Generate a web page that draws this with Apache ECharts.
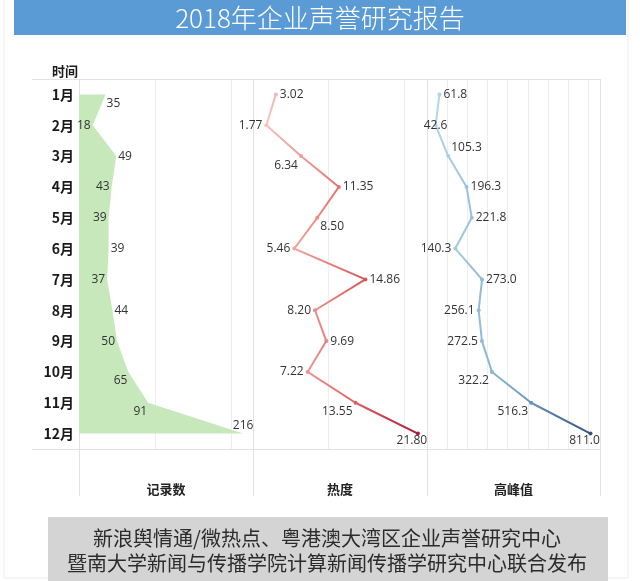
<!DOCTYPE html>
<html>
<head>
<meta charset="utf-8">
<script src="https://cdn.jsdelivr.net/npm/echarts@6/dist/echarts.min.js"></script>
<style>
html,body{margin:0;padding:0;background:#fff;}
#chart{width:640px;height:581px;}
</style>
</head>
<body>
<div id="chart"></div>
<script>
// ---- data ----
const months = ['1月','2月','3月','4月','5月','6月','7月','8月','9月','10月','11月','12月'];
const records = [35, 18, 49, 43, 39, 39, 37, 44, 50, 65, 91, 216];
const heat = [3.02, 1.77, 6.34, 11.35, 8.50, 5.46, 14.86, 8.20, 9.69, 7.22, 13.55, 21.80];
const peak = [61.8, 42.6, 105.3, 196.3, 221.8, 140.3, 273.0, 256.1, 272.5, 322.2, 516.3, 811.0];
const panelNames = ['记录数', '热度', '高峰值'];
const titleText = '2018年企业声誉研究报告';
const footerLines = ['新浪舆情通/微热点、粤港澳大湾区企业声誉研究中心', '暨南大学新闻与传播学院计算新闻传播学研究中心联合发布'];

// ---- label placement styles ----
const recPlace = ['rb','l','r','l','l','r','l','r','l','lb','lb','t'];
const heatPlace = ['r','l','lb','r','rb','l','r','l','r','l','lb','b'];
const peakPlace = ['r','c','rt','r','r','l','r','l','l','lb','lb','b'];

function placeCfg(p) {
  switch (p) {
    case 'r': return {position: 'right', distance: 2};
    case 'l': return {position: 'left', distance: 2};
    case 'rb': return {position: 'right', distance: 1, offset: [0, 9]};
    case 'lb': return {position: 'left', distance: 1, offset: [0, 9]};
    case 'rt': return {position: 'right', distance: 1, offset: [0, -9]};
    case 't': return {position: 'top', distance: 2};
    case 'b': return {position: 'bottom', distance: 1, offset: [-6, -2]};
    case 'c': return {position: 'inside'};
  }
}

function buildData(vals, places, digits) {
  return vals.map((v, i) => ({
    value: [v, months[i]],
    label: Object.assign({show: true, formatter: () => digits == null ? String(v) : v.toFixed(digits)}, placeCfg(places[i]))
  }));
}

const labelFont = {color: '#333', fontSize: 12, fontFamily: 'Open Sans, Noto Sans, sans-serif'};
const gridLeft = [79, 253, 427];
const gridW = [174, 174, 173];
const maxes = [229, 23, 858];
const intervals = [100, 10, 100];

const grids = gridLeft.map((l, i) => ({left: l, width: gridW[i], top: 79, height: 370, containLabel: false}));
const xAxes = gridLeft.map((l, i) => ({
  type: 'value', gridIndex: i, min: 0, max: maxes[i], interval: intervals[i],
  axisLine: {show: false}, axisTick: {show: false}, axisLabel: {show: false},
  splitLine: {show: true, lineStyle: {color: '#eeeeee', width: 1}},
  name: panelNames[i], nameLocation: 'middle', nameGap: 34,
  nameTextStyle: {fontSize: 13, fontWeight: 'bold', color: '#222', fontFamily: 'Noto Sans CJK SC'}
}));
const yAxes = gridLeft.map((l, i) => ({
  type: 'category', gridIndex: i, data: months, inverse: true, boundaryGap: true,
  axisLine: {show: false}, axisTick: {show: false},
  axisLabel: {show: i === 0, margin: 5, fontSize: 14, fontWeight: 'bold', color: '#1a1a1a', fontFamily: 'Noto Sans CJK SC'},
  splitLine: {show: false}
}));

const series = [
  {
    type: 'line', xAxisIndex: 0, yAxisIndex: 0,
    data: buildData(records, recPlace, null),
    symbol: 'circle', symbolSize: 0,
    lineStyle: {width: 0, color: '#c6e8bb'},
    itemStyle: {color: '#c6e8bb'},
    areaStyle: {color: '#c6e8bb', opacity: 1},
    label: Object.assign({show: true}, labelFont),
    z: 3
  },
  {
    type: 'line', xAxisIndex: 1, yAxisIndex: 1,
    data: buildData(heat, heatPlace, 2),
    symbol: 'circle', symbolSize: 4,
    lineStyle: {width: 2},
    label: Object.assign({show: true}, labelFont),
    z: 3
  },
  {
    type: 'line', xAxisIndex: 2, yAxisIndex: 2,
    data: buildData(peak, peakPlace, 1),
    symbol: 'circle', symbolSize: 4,
    lineStyle: {width: 2},
    label: Object.assign({show: true}, labelFont),
    z: 3
  }
];

const visualMaps = [
  {type: 'continuous', show: false, seriesIndex: 1, dimension: 0, min: 1.77, max: 21.80,
   inRange: {color: ['#f6c2bb', '#e5706c', '#b4173a']}},
  {type: 'continuous', show: false, seriesIndex: 2, dimension: 0, min: 42.6, max: 811.0,
   inRange: {color: ['#b2d6ea', '#7aa7cb', '#33557c']}}
];

const lineColor = '#e2e2e2';
const graphics = [
  {type: 'rect', shape: {x: 4, y: -2, width: 624, height: 580}, style: {fill: 'none', stroke: '#ececec', lineWidth: 1}, z: -10, silent: true},
  {type: 'rect', shape: {x: 14, y: 0, width: 612, height: 35}, style: {fill: '#5b9bd5'}, z: 1},
  {type: 'text', x: 320, y: 18, style: {text: titleText, fill: '#ffffff', fontSize: 26, fontWeight: 300, fontFamily: 'Noto Sans CJK SC', textAlign: 'center', textVerticalAlign: 'middle'}, z: 2},
  {type: 'text', x: 52, y: 71, style: {text: '时间', fill: '#1a1a1a', fontSize: 13, fontWeight: 'bold', fontFamily: 'Noto Sans CJK SC', textAlign: 'left', textVerticalAlign: 'middle'}, z: 2},
  {type: 'line', shape: {x1: 32, y1: 79.5, x2: 600, y2: 79.5}, style: {stroke: lineColor, lineWidth: 1}, z: 1, silent: true},
  {type: 'line', shape: {x1: 32, y1: 449.5, x2: 600, y2: 449.5}, style: {stroke: lineColor, lineWidth: 1}, z: 1, silent: true},
  {type: 'line', shape: {x1: 79.5, y1: 79, x2: 79.5, y2: 496}, style: {stroke: lineColor, lineWidth: 1}, z: 1, silent: true},
  {type: 'line', shape: {x1: 253.5, y1: 79, x2: 253.5, y2: 496}, style: {stroke: lineColor, lineWidth: 1}, z: 1, silent: true},
  {type: 'line', shape: {x1: 427.5, y1: 79, x2: 427.5, y2: 496}, style: {stroke: lineColor, lineWidth: 1}, z: 1, silent: true},
  {type: 'line', shape: {x1: 600.5, y1: 79, x2: 600.5, y2: 496}, style: {stroke: lineColor, lineWidth: 1}, z: 1, silent: true},
  {type: 'rect', shape: {x: 48, y: 517, width: 560, height: 70}, style: {fill: '#d4d4d4'}, z: 1},
  {type: 'text', x: 327, y: 538, style: {text: footerLines[0], fill: '#2b2b2b', fontSize: 20, fontFamily: 'Noto Sans CJK SC', textAlign: 'center', textVerticalAlign: 'middle'}, z: 2},
  {type: 'text', x: 327, y: 563, style: {text: footerLines[1], fill: '#2b2b2b', fontSize: 20, fontFamily: 'Noto Sans CJK SC', textAlign: 'center', textVerticalAlign: 'middle'}, z: 2}
];

const chart = echarts.init(document.getElementById('chart'), null, {renderer: 'canvas'});
chart.setOption({
  animation: false,
  backgroundColor: '#ffffff',
  grid: grids,
  xAxis: xAxes,
  yAxis: yAxes,
  visualMap: visualMaps,
  series: series,
  graphic: graphics
});
</script>
</body>
</html>
